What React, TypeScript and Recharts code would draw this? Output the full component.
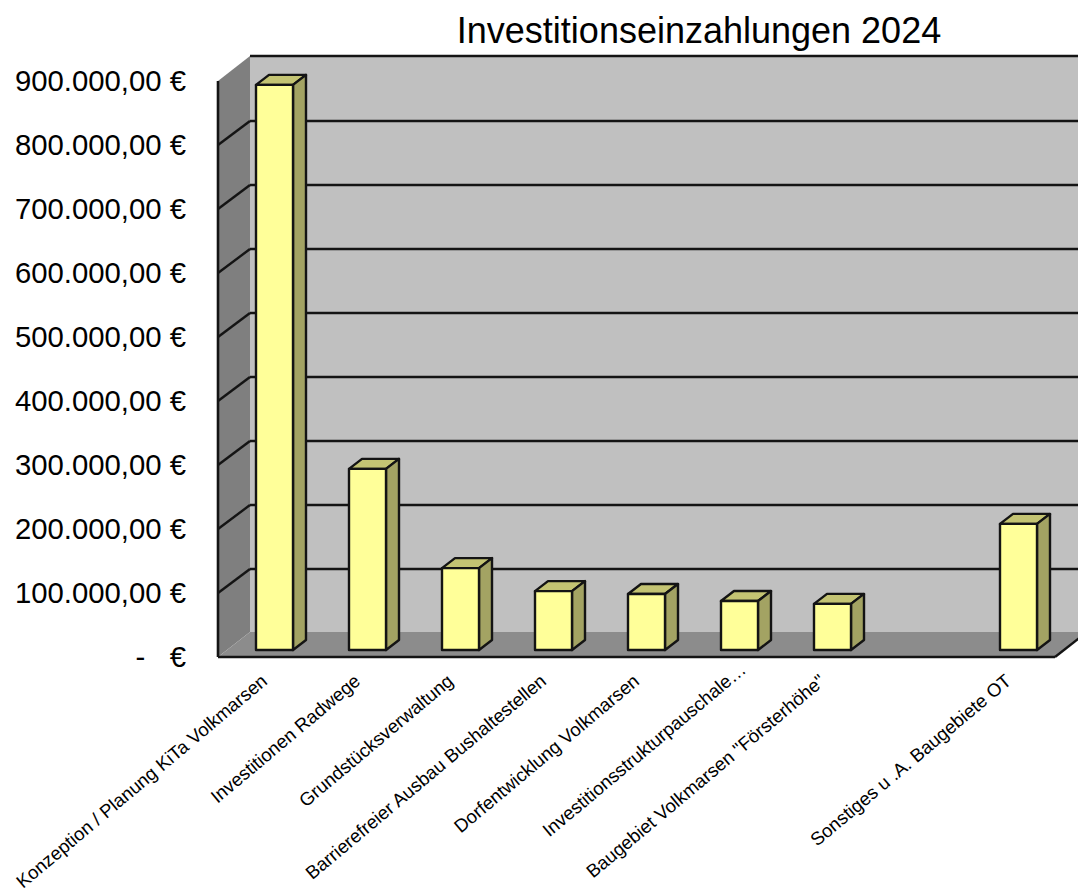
import React from "react";
import { BarChart, Bar, XAxis, YAxis, ReferenceArea } from "recharts";

const categories = [
  "Konzeption / Planung KiTa Volkmarsen",
  "Investitionen Radwege",
  "Grundstücksverwaltung",
  "Barrierefreier Ausbau Bushaltestellen",
  "Dorfentwicklung Volkmarsen",
  "Investitionsstrukturpauschale…",
  'Baugebiet Volkmarsen "Försterhöhe"',
  "",
  "Sonstiges u .A. Baugebiete OT",
];
const values = [883000, 283000, 128000, 92000, 87500, 76500, 72000, null, 197000];
const yTicks = [0, 100000, 200000, 300000, 400000, 500000, 600000, 700000, 800000, 900000];
const gridTicks = [100000, 200000, 300000, 400000, 500000, 600000, 700000, 800000];
const yLabels = [
  "-   €",
  "100.000,00 €",
  "200.000,00 €",
  "300.000,00 €",
  "400.000,00 €",
  "500.000,00 €",
  "600.000,00 €",
  "700.000,00 €",
  "800.000,00 €",
  "900.000,00 €",
];
const title = "Investitionseinzahlungen 2024";

const data = categories.map((name, i) => ({ name, value: values[i] }));

const FONT = "'Liberation Sans', Arial, sans-serif";
const DEPTH_X = 32;
const DEPTH_Y = 25;
const LINE = "#141414";
const SW = 2.4;

const Walls = (p: any) => {
  const { x, y, width, height } = p;
  const b = y + height;
  const r = x + width;
  return (
    <g>
      <rect x={x + DEPTH_X} y={y - DEPTH_Y} width={width + 40} height={height} fill="#c0c0c0" />
      <polygon
        points={`${x},${y} ${x + DEPTH_X},${y - DEPTH_Y} ${x + DEPTH_X},${b - DEPTH_Y} ${x},${b}`}
        fill="#7f7f7f"
      />
      <polygon
        points={`${x},${b} ${r},${b} ${r + DEPTH_X},${b - DEPTH_Y} ${x + DEPTH_X},${b - DEPTH_Y}`}
        fill="#8c8c8c"
      />
      <line x1={x + DEPTH_X} y1={y - DEPTH_Y} x2={r + 40} y2={y - DEPTH_Y} stroke={LINE} strokeWidth={SW} />
      <line x1={r} y1={b} x2={r + DEPTH_X} y2={b - DEPTH_Y} stroke={LINE} strokeWidth={SW} />
    </g>
  );
};

const GridLine = (p: any) => {
  const { x, y, width } = p;
  const r = x + width;
  const back = y - DEPTH_Y + 1;
  return (
    <g>
      <line x1={x} y1={y} x2={x + DEPTH_X} y2={back} stroke={LINE} strokeWidth={SW} />
      <line x1={x + DEPTH_X} y1={back} x2={r + 40} y2={back} stroke={LINE} strokeWidth={SW} />
    </g>
  );
};

const Bar3D = (p: any) => {
  const { x, y, width, height } = p;
  if (!height || height <= 0) return <g />;
  const fx = x + 10;
  const fy = y - 7;
  const dx = 13;
  const dy = 10;
  const fr = fx + width;
  const fb = fy + height;
  return (
    <g stroke={LINE} strokeWidth={SW} strokeLinejoin="round">
      <polygon points={`${fx},${fy} ${fr},${fy} ${fr + dx},${fy - dy} ${fx + dx},${fy - dy}`} fill="#c4c473" />
      <polygon points={`${fr},${fy} ${fr + dx},${fy - dy} ${fr + dx},${fb - dy} ${fr},${fb}`} fill="#a3a363" />
      <rect x={fx} y={fy} width={width} height={height} fill="#ffff99" />
    </g>
  );
};

const XTick = (p: any) => {
  const label = String(p.payload.value);
  return (
    <text
      transform={`translate(${p.x + 4},683) rotate(-40)`}
      dx={label.endsWith("…") ? 18 : 0}
      textAnchor="end"
      fontFamily={FONT}
      fontSize={18.6}
      fill="#000"
    >
      {label}
    </text>
  );
};

const YTick = (p: any) => (
  <text
    x={186}
    y={p.y + 10}
    textAnchor="end"
    fontFamily={FONT}
    fontSize={29.3}
    fill="#000"
    style={{ whiteSpace: "pre" }}
  >
    {yLabels[yTicks.indexOf(p.payload.value)]}
  </text>
);

export default function App() {
  return (
    <div style={{ position: "absolute", left: 0, top: 0, width: 1078, height: 888, overflow: "hidden", background: "#fff" }}>
      <BarChart
        width={1078}
        height={888}
        data={data}
        margin={{ top: 81, right: 23, bottom: 0, left: 0 }}
        barCategoryGap={0}
      >
        <ReferenceArea y1={0} y2={900000} shape={Walls} stroke="none" />
        {gridTicks.map((t) => (
          <ReferenceArea key={t} y1={t} y2={t} shape={GridLine} stroke="none" />
        ))}
        <XAxis
          dataKey="name"
          height={231}
          interval={0}
          tickLine={false}
          axisLine={{ stroke: LINE, strokeWidth: 2.6 }}
          tick={XTick}
        />
        <YAxis
          width={218}
          domain={[0, 900000]}
          ticks={yTicks}
          interval={0}
          tickLine={false}
          axisLine={{ stroke: LINE, strokeWidth: 2.6 }}
          tick={YTick}
        />
        <Bar dataKey="value" barSize={37} shape={Bar3D} isAnimationActive={false} />
        <text x={699} y={43} textAnchor="middle" fontFamily={FONT} fontSize={36} fill="#000">
          {title}
        </text>
      </BarChart>
    </div>
  );
}
